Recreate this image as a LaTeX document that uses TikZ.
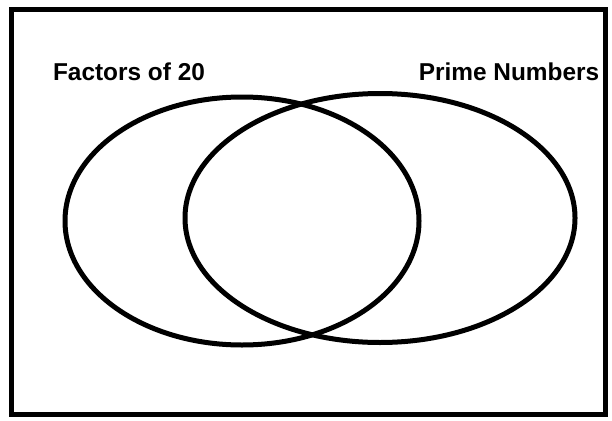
\documentclass[tikz,border=0pt]{standalone}
\usepackage{fontspec}
\setmainfont{Liberation Sans}
\usetikzlibrary{shapes.geometric}
\tikzset{
  setring/.style={draw, ellipse, line width=5pt, inner sep=0pt},
  setlabel/.style={font=\bfseries\fontsize{24.4}{28}\selectfont, anchor=base, inner sep=0pt}
}
\begin{document}
\begin{tikzpicture}[x=1pt,y=-1pt]
\useasboundingbox (0,0) rectangle (612,420);
\draw[line width=5pt] (11,10) rectangle (605,414);

\node[setring, minimum width=354pt, minimum height=248pt] (factors) at (242,221) {};
\node[setring, minimum width=390pt, minimum height=249pt] (primes) at (380,218) {};

\node[setlabel] (factorslabel) at (129,80) {Factors of 20};
\node[setlabel] (primeslabel) at (509,80) {Prime Numbers};
\end{tikzpicture}
\end{document}
